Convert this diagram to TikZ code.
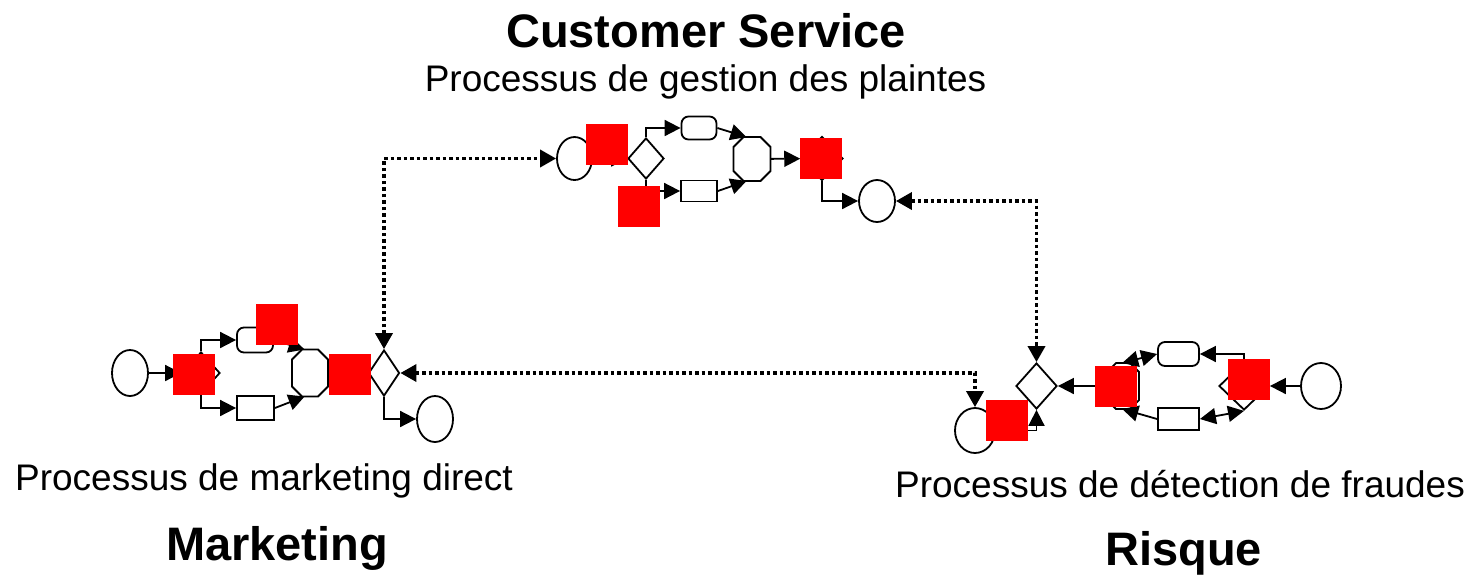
\documentclass[tikz,border=0pt]{standalone}
\usepackage{fontspec}
\setmainfont{Liberation Sans}
\usetikzlibrary{arrows.meta,shapes.geometric,calc}
\newcommand\octdraw[2]{%
  \draw[ln] ($(#1.north west)+(#2,0)$) -- ($(#1.north east)+(-#2,0)$)
    -- ($(#1.north east)+(0,#2)$) -- ($(#1.south east)+(0,-#2)$)
    -- ($(#1.south east)+(-#2,0)$) -- ($(#1.south west)+(#2,0)$)
    -- ($(#1.south west)+(0,-#2)$) -- ($(#1.north west)+(0,#2)$) -- cycle;}
\begin{document}
\begin{tikzpicture}[x=1pt,y=-1pt,
  ln/.style={line width=1.8pt},
  tip/.tip={Triangle[length=16pt,width=16pt]},
  arr/.style={ln,-tip},
  darr/.style={ln,tip-tip},
  dotline/.style={line width=3.5pt,dash pattern=on 3.5pt off 3pt,
     {Triangle[length=16pt,width=17pt]}-{Triangle[length=16pt,width=17pt]}},
  circ/.style={ellipse,draw,ln,inner sep=0pt,minimum width=36pt,minimum height=44pt},
  gw/.style={diamond,draw,ln,inner sep=0pt},
  task/.style={rectangle,draw,ln,inner sep=0pt,minimum width=36pt,minimum height=22pt},
  rtask/.style={task,rounded corners=7pt},
  octbox/.style={rectangle,inner sep=0pt,outer sep=0pt},
  redbox/.style={fill=red,inner sep=0pt,minimum width=42pt,minimum height=41pt},
  title/.style={anchor=base,font=\bfseries\fontsize{47}{56}\selectfont},
  sub/.style={anchor=base,font=\fontsize{37}{44}\selectfont}
]
\useasboundingbox (0,0) rectangle (1472,574);

% ---------- Texts
\node[title] (t_cs) at (706,47) {Customer Service};
\node[sub] (s_cs) at (705.5,91) {Processus de gestion des plaintes};
\node[sub] (s_m) at (264,490) {Processus de marketing direct};
\node[title] (t_m) at (277,560) {Marketing};
\node[sub] (s_r) at (1180,497) {Processus de détection de fraudes};
\node[title] (t_r) at (1183.5,565) {Risque};

% ---------- Marketing
\node[circ,minimum height=46pt] (m_s) at (130,373) {};
\node[gw,minimum width=38pt,minimum height=42pt] (m_g1) at (201,373) {};
\node[rtask,minimum width=36pt,minimum height=25pt] (m_t1) at (255,340) {};
\node[task,minimum width=37pt,minimum height=24pt] (m_t2) at (255.5,408) {};
\node[octbox,minimum width=36pt,minimum height=47pt] (m_o) at (310,373) {};
\octdraw{m_o}{10}
\node[gw,minimum width=31pt,minimum height=46pt] (m_g2) at (384,373) {};
\node[circ,minimum height=46pt] (m_e) at (435,419) {};
\draw[arr] (m_s) -- (m_g1);
\draw[arr] (m_g1.north) |- (m_t1.west);
\draw[arr] (m_g1.south) |- (m_t2.west);
\draw[arr] (m_t1.east) -- (m_o.103);
\draw[arr] (m_t2.east) -- (m_o.257);
\draw[arr] (m_o) -- (m_g2);
\draw[arr] (m_g2.south) |- (m_e.west);

% ---------- Customer Service
\node[circ,minimum width=35pt,minimum height=43pt] (c_s) at (574.5,158.5) {};
\node[gw,minimum width=36pt,minimum height=41pt] (c_g1) at (646,158.5) {};
\node[rtask,minimum width=35pt,minimum height=23pt] (c_t1) at (699,128) {};
\node[task,minimum width=36pt,minimum height=21pt] (c_t2) at (699,191) {};
\node[octbox,minimum width=37pt,minimum height=44pt] (c_o) at (752,159) {};
\octdraw{c_o}{10}
\node[gw,minimum width=42pt,minimum height=44pt] (c_g2) at (822,158.5) {};
\node[circ,minimum width=36pt,minimum height=42pt] (c_e) at (877,201) {};
\draw[arr] (c_s) -- (c_g1);
\draw[arr] (c_g1.north) |- (c_t1.west);
\draw[arr] (c_g1.south) |- (c_t2.west);
\draw[arr] (c_t1.east) -- (c_o.104);
\draw[arr] (c_t2.east) -- (c_o.256);
\draw[arr] (c_o) -- (c_g2);
\draw[arr] (c_g2.south) |- (c_e.west);

% ---------- Risque
\node[circ,minimum width=40pt,minimum height=46pt] (r_s) at (1321,386) {};
\node[gw,minimum width=50pt,minimum height=48pt] (r_g1) at (1244,386) {};
\node[rtask,minimum width=41pt,minimum height=24pt] (r_t1) at (1178.5,354) {};
\node[task,minimum width=41pt,minimum height=22pt] (r_t2) at (1178.5,419) {};
\node[octbox,minimum width=32pt,minimum height=46pt] (r_o) at (1123,386) {};
\octdraw{r_o}{9}
\node[gw,minimum width=41pt,minimum height=46pt] (r_g2) at (1036.5,386) {};
\node[circ,minimum width=40pt,minimum height=45pt] (r_e) at (975,430.5) {};
\draw[arr] (r_s) -- (r_g1);
\draw[arr] (r_g1.north) |- (r_t1.east);
\draw[darr] (r_t1.west) -- (r_o.92);
\draw[darr] (r_t2.east) -- (r_g1.south);
\draw[arr] (r_t2.west) -- (r_o.268);
\draw[arr] (r_o) -- (r_g2);
\draw[arr] (r_e.east) -| (r_g2.south);

% ---------- Dotted links
\draw[dotline] (m_g2.north) |- (c_s.west);
\draw[dotline] (c_e.east) -| (r_g2.north);
\draw[dotline] (m_g2.east) -| (r_e.north);

% ---------- Red markers
\node[redbox] (m_r1) at (194,374.5) {};
\node[redbox] (m_r2) at (277,324.5) {};
\node[redbox] (m_r3) at (350,374.5) {};
\node[redbox] (c_r1) at (607,144.5) {};
\node[redbox] (c_r2) at (639,206.5) {};
\node[redbox] (c_r3) at (821,158.5) {};
\node[redbox] (r_r1) at (1249,379.5) {};
\node[redbox] (r_r2) at (1116,386.5) {};
\node[redbox] (r_r3) at (1007,420.5) {};
\end{tikzpicture}
\end{document}
